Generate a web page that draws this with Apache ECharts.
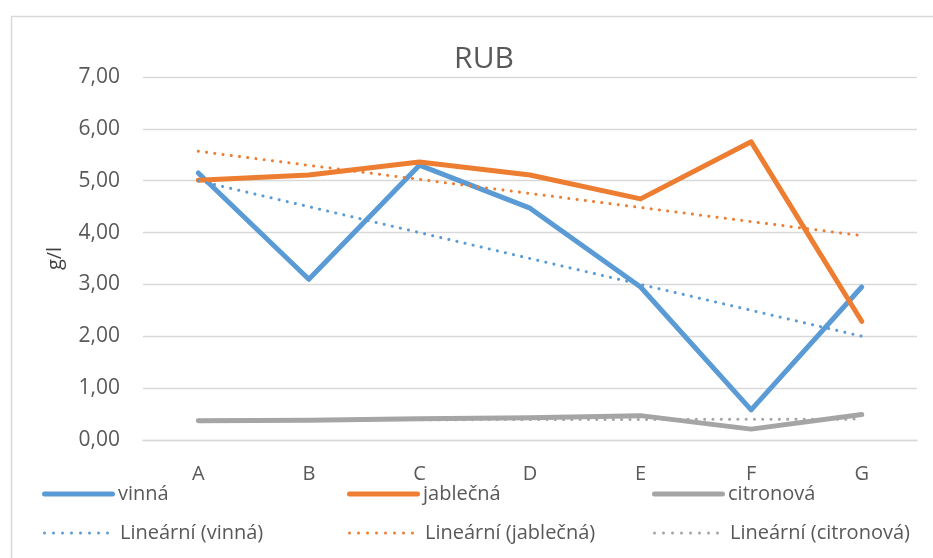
<!DOCTYPE html>
<html>
<head>
<meta charset="utf-8">
<script src="https://cdn.jsdelivr.net/npm/echarts@6/dist/echarts.min.js"></script>
<style>
html,body{margin:0;padding:0;background:#fff;}
#c{width:933px;height:558px;}
</style>
</head>
<body>
<div id="c"></div>
<script>
const categories = ['A', 'B', 'C', 'D', 'E', 'F', 'G'];
const vinna = [5.15, 3.10, 5.30, 4.47, 2.95, 0.58, 2.95];
const jablecna = [5.01, 5.11, 5.36, 5.11, 4.65, 5.75, 2.29];
const citronova = [0.37, 0.38, 0.41, 0.43, 0.47, 0.21, 0.49];
const seriesNames = ['vinná', 'jablečná', 'citronová'];
const trendNames = ['Lineární (vinná)', 'Lineární (jablečná)', 'Lineární (citronová)'];
const yTicks = [0, 1, 2, 3, 4, 5, 6, 7];

const colors = ['#5B9BD5', '#ED7D31', '#A5A5A5'];
const FONT = 'Open Sans';

// least-squares linear trendline (as Excel "Lineární" trendline)
function linFit(v) {
  const n = v.length;
  let sx = 0, sy = 0, sxx = 0, sxy = 0;
  for (let i = 0; i < n; i++) { const x = i + 1; sx += x; sy += v[i]; sxx += x * x; sxy += x * v[i]; }
  const b = (n * sxy - sx * sy) / (n * sxx - sx * sx);
  const a = (sy - b * sx) / n;
  return v.map((_, i) => a + b * (i + 1));
}

const dataSets = [vinna, jablecna, citronova];
const dotted = [0.1, 8.2];

const series = [];
dataSets.forEach((d, i) => {
  series.push({
    name: seriesNames[i], type: 'line', data: d, symbol: 'none',
    lineStyle: { color: colors[i], width: 5, cap: 'round', join: 'round' },
    itemStyle: { color: colors[i] }, z: 2
  });
});
dataSets.forEach((d, i) => {
  series.push({
    name: trendNames[i], type: 'line', data: linFit(d), symbol: 'none',
    lineStyle: { color: colors[i], width: 3, type: dotted, cap: 'round' },
    itemStyle: { color: colors[i] }, z: 3
  });
});

// legend icons: thick rounded bar and a row of dots
const solidIcon = 'path://M2.5,0 L70.5,0 A2.5,2.5 0 0 1 70.5,5 L2.5,5 A2.5,2.5 0 0 1 2.5,0 Z';
let dotPath = 'path://';
for (let k = 0; k < 8; k++) {
  const cx = 1.5 + k * 9;
  dotPath += 'M' + (cx - 1.5) + ',1.5 A1.5,1.5 0 1 0 ' + (cx + 1.5) + ',1.5 A1.5,1.5 0 1 0 ' + (cx - 1.5) + ',1.5 Z ';
}

const legendX = [42, 347, 652];
const legends = [];
for (let i = 0; i < 3; i++) {
  legends.push({
    data: [seriesNames[i]], left: legendX[i], top: 480, padding: 0,
    icon: solidIcon, itemWidth: 73, itemHeight: 5,
    textStyle: { fontFamily: FONT, fontSize: 20, color: '#595959', lineHeight: 24, padding: [4, 0, 0, -2] }
  });
  legends.push({
    data: [trendNames[i]], left: legendX[i] + 1, top: 520, padding: 0,
    icon: dotPath, itemWidth: 66, itemHeight: 3,
    textStyle: { fontFamily: FONT, fontSize: 20, color: '#595959', lineHeight: 24, padding: [2, 0, 0, 6] }
  });
}

const chart = echarts.init(document.getElementById('c'), null, { renderer: 'canvas' });
chart.setOption({
  animation: false,
  backgroundColor: '#fff',
  textStyle: { fontFamily: FONT },
  title: {
    text: 'RUB', left: 479, top: 39, textAlign: 'center',
    textStyle: { fontFamily: FONT, fontSize: 30, fontWeight: 'normal', color: '#595959' }
  },
  graphic: [{
    type: 'rect', left: 9, top: 14, shape: { width: 1000, height: 700 },
    style: { fill: 'none', stroke: '#D9D9D9', lineWidth: 1.5 }, silent: true
  }],
  legend: legends,
  grid: { left: 143, right: 16, top: 77, bottom: 118, containLabel: false },
  xAxis: {
    type: 'category', data: categories, boundaryGap: true,
    axisLine: { show: true, lineStyle: { color: '#D9D9D9', width: 1.3 } },
    axisTick: { show: false },
    axisLabel: { fontFamily: FONT, fontSize: 20, color: '#595959', margin: 24 }
  },
  yAxis: {
    type: 'value', min: yTicks[0], max: yTicks[yTicks.length - 1], interval: 1,
    name: 'g/l', nameLocation: 'middle', nameGap: 78, nameRotate: 90,
    nameTextStyle: { fontFamily: FONT, fontSize: 20, color: '#404040' },
    axisLine: { show: false }, axisTick: { show: false },
    axisLabel: { fontFamily: FONT, fontSize: 21, color: '#595959', margin: 23,
      formatter: v => v.toFixed(2).replace('.', ',') },
    splitLine: { lineStyle: { color: '#D9D9D9', width: 1.3 } }
  },
  series: series
});
</script>
</body>
</html>
